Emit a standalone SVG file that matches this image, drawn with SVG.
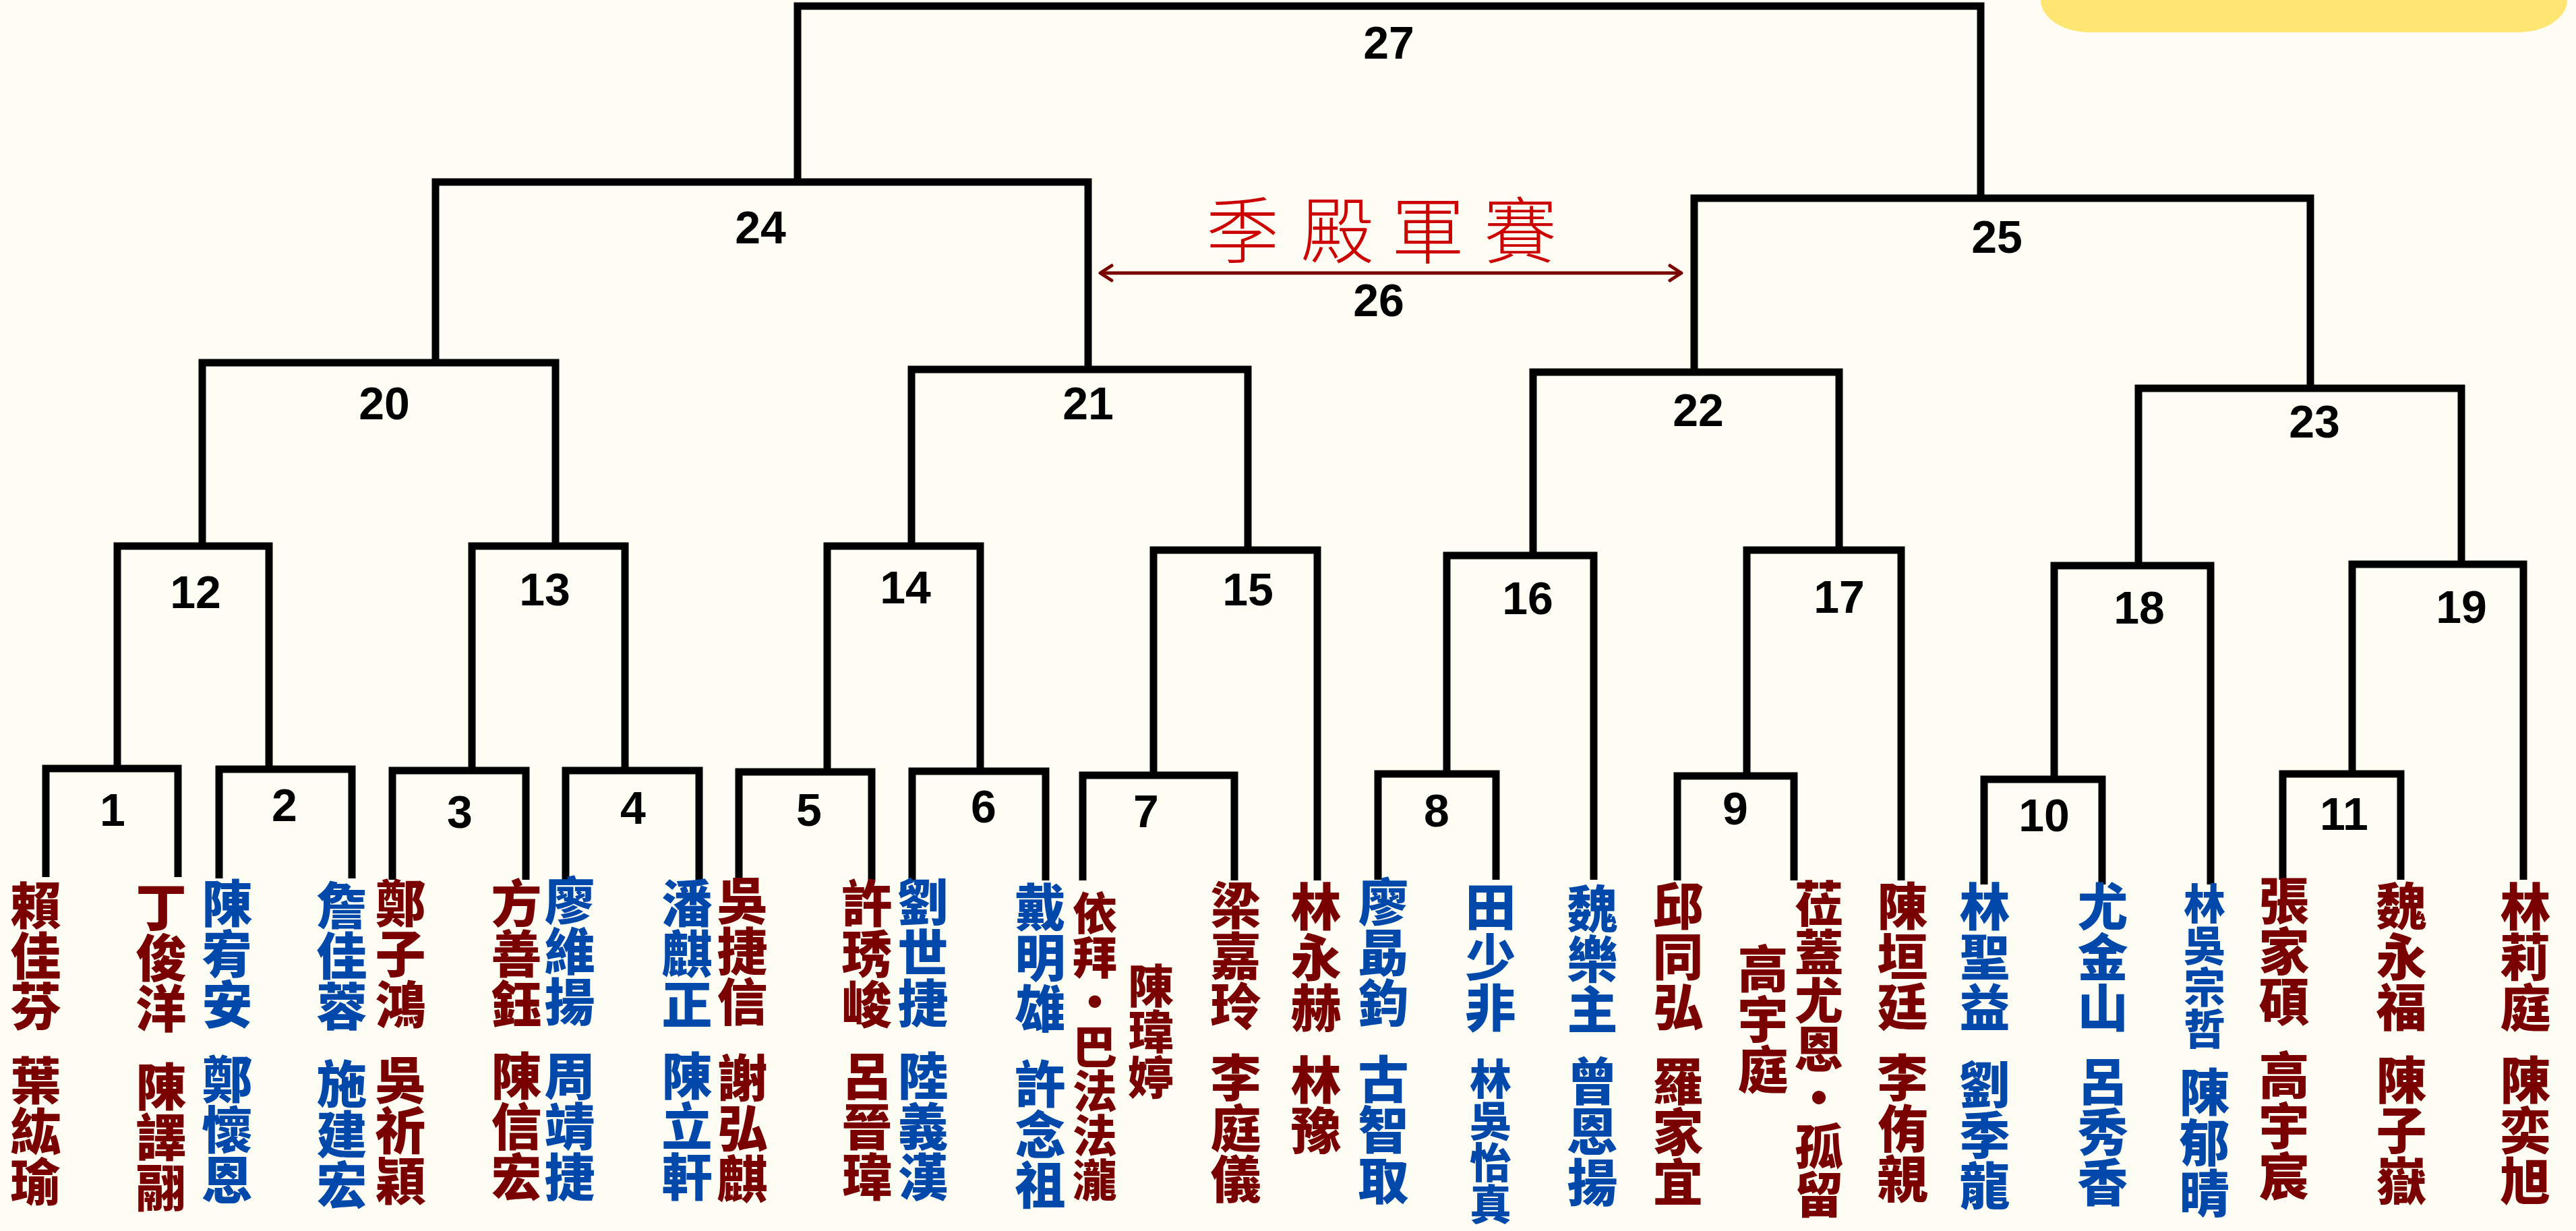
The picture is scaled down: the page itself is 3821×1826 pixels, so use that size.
<svg xmlns="http://www.w3.org/2000/svg" width="3821" height="1826" viewBox="0 0 3821 1826">
<style>
.bg{fill:#FDFDF4}
.ln{fill:none;stroke:#000;stroke-width:11;stroke-linejoin:miter;stroke-linecap:butt}
.num{font-family:"Liberation Sans","DejaVu Sans",sans-serif;font-weight:bold;font-size:68px;fill:#000;text-anchor:middle}
.nm{font-family:"Noto Sans CJK TC","Noto Sans CJK SC",sans-serif;font-weight:900;font-size:75px;writing-mode:vertical-rl;text-anchor:start}
.r{fill:#7A0000}
.b{fill:#0049AA}
.ttl{font-family:"Noto Sans CJK TC","Noto Sans CJK SC",sans-serif;font-weight:300;font-size:108px;fill:#CC0000;text-anchor:middle}
</style>
<defs>
<marker id="chev" markerUnits="userSpaceOnUse" viewBox="0 0 30 30" markerWidth="30" markerHeight="30" refX="27" refY="15" orient="auto-start-reverse">
<path d="M10,4 L27,15 L10,26" fill="none" stroke="#7A0000" stroke-width="5" stroke-linecap="round" stroke-linejoin="round"/>
</marker>
</defs>
<rect class="bg" x="0" y="0" width="3821" height="1826"/>
<rect x="3027" y="-48" width="781" height="96" rx="73" ry="48" fill="#FFE571"/>

<g id="connectors">
<path class="ln" d="M68,1301 V1140 H264 V1301"/>
<path class="ln" d="M325,1303 V1141 H522 V1303"/>
<path class="ln" d="M582,1305 V1143 H780 V1305"/>
<path class="ln" d="M839,1305 V1143 H1037 V1305"/>
<path class="ln" d="M1096,1305 V1145 H1293 V1305"/>
<path class="ln" d="M1353,1306 V1144 H1551 V1306"/>
<path class="ln" d="M1606,1306 V1150 H1831 V1306"/>
<path class="ln" d="M2044,1305 V1148 H2219 V1305"/>
<path class="ln" d="M2488,1306 V1151 H2661 V1306"/>
<path class="ln" d="M2943,1312 V1156 H3118 V1312"/>
<path class="ln" d="M3386,1305 V1148 H3561 V1305"/>
<path class="ln" d="M174,1140 V810 H399 V1141"/>
<path class="ln" d="M700,1143 V810 H927 V1143"/>
<path class="ln" d="M1227,1145 V810 H1454 V1144"/>
<path class="ln" d="M1711,1150 V816 H1954 V1306"/>
<path class="ln" d="M2146,1148 V824 H2364 V1305"/>
<path class="ln" d="M2591,1151 V816 H2820 V1306"/>
<path class="ln" d="M3047,1156 V839 H3279 V1312"/>
<path class="ln" d="M3489,1148 V837 H3743 V1305"/>
<path class="ln" d="M300,810 V538 H824 V810"/>
<path class="ln" d="M1352,810 V548 H1851 V816"/>
<path class="ln" d="M2274,824 V552 H2728 V816"/>
<path class="ln" d="M3172,839 V576 H3651 V837"/>
<path class="ln" d="M646,538 V270 H1614 V548"/>
<path class="ln" d="M2513,552 V294 H3427 V576"/>
<path class="ln" d="M1183,270 V9 H2938 V294"/>
<path d="M1632,405 H2494" fill="none" stroke="#7A0000" stroke-width="5" marker-start="url(#chev)" marker-end="url(#chev)"/>
</g>

<g id="m1"><text class="num" x="167" y="1225">1</text></g>
<g id="m2"><text class="num" x="422" y="1218">2</text></g>
<g id="m3"><text class="num" x="682" y="1228">3</text></g>
<g id="m4"><text class="num" x="939" y="1222">4</text></g>
<g id="m5"><text class="num" x="1200" y="1225">5</text></g>
<g id="m6"><text class="num" x="1459" y="1220">6</text></g>
<g id="m7"><text class="num" x="1700" y="1227">7</text></g>
<g id="m8"><text class="num" x="2131" y="1226">8</text></g>
<g id="m9"><text class="num" x="2574" y="1223">9</text></g>
<g id="m10"><text class="num" x="3032" y="1233">10</text></g>
<g id="m11"><text class="num" x="3477" y="1231">11</text></g>
<g id="m12"><text class="num" x="290" y="902">12</text></g>
<g id="m13"><text class="num" x="808" y="898">13</text></g>
<g id="m14"><text class="num" x="1343" y="895">14</text></g>
<g id="m15"><text class="num" x="1851" y="898">15</text></g>
<g id="m16"><text class="num" x="2266" y="911">16</text></g>
<g id="m17"><text class="num" x="2728" y="909">17</text></g>
<g id="m18"><text class="num" x="3173" y="925">18</text></g>
<g id="m19"><text class="num" x="3651" y="924">19</text></g>
<g id="m20"><text class="num" x="570" y="622">20</text></g>
<g id="m21"><text class="num" x="1614" y="622">21</text></g>
<g id="m22"><text class="num" x="2519" y="632">22</text></g>
<g id="m23"><text class="num" x="3433" y="649">23</text></g>
<g id="m24"><text class="num" x="1128" y="361">24</text></g>
<g id="m25"><text class="num" x="2962" y="375">25</text></g>
<g id="m26"><text class="ttl" x="1843 1984 2118 2255" y="382">季殿軍賽</text><text class="num" x="2045" y="469">26</text></g>
<g id="m27"><text class="num" x="2060" y="87">27</text></g>

<g id="p01"><text class="nm r" x="53" y="1305">賴佳芬</text><text class="nm r" x="53" y="1565">葉紘瑜</text></g>
<g id="p02"><text class="nm r" x="239" y="1308">丁俊洋</text><text class="nm r" x="239" y="1574">陳譯翮</text></g>
<g id="p03"><text class="nm b" x="337" y="1302">陳宥安</text><text class="nm b" x="337" y="1563">鄭懷恩</text></g>
<g id="p04"><text class="nm b" x="507" y="1305">詹佳蓉</text><text class="nm b" x="507" y="1570">施建宏</text></g>
<g id="p05"><text class="nm r" x="594" y="1302">鄭子鴻</text><text class="nm r" x="594" y="1564">吳祈穎</text></g>
<g id="p06"><text class="nm r" x="766" y="1302">方善鈺</text><text class="nm r" x="766" y="1558">陳信宏</text></g>
<g id="p07"><text class="nm b" x="845" y="1298">廖維揚</text><text class="nm b" x="845" y="1558">周靖捷</text></g>
<g id="p08"><text class="nm b" x="1019" y="1302">潘麒正</text><text class="nm b" x="1019" y="1558">陳立軒</text></g>
<g id="p09"><text class="nm r" x="1101" y="1298">吳捷信</text><text class="nm r" x="1101" y="1561">謝弘麒</text></g>
<g id="p10"><text class="nm r" x="1286" y="1302">許琇峻</text><text class="nm r" x="1286" y="1558">呂晉瑋</text></g>
<g id="p11"><text class="nm b" x="1369" y="1300">劉世捷</text><text class="nm b" x="1369" y="1558">陸義漢</text></g>
<g id="p12"><text class="nm b" x="1543" y="1308">戴明雄</text><text class="nm b" x="1543" y="1570">許念祖</text></g>
<g id="p13"><text class="nm r" x="1624" y="1321" style="font-size:66px">依拜・巴法法瀧</text><text class="nm r" x="1707" y="1428" style="font-size:68px">陳瑋婷</text></g>
<g id="p14"><text class="nm r" x="1833" y="1305">梁嘉玲</text><text class="nm r" x="1833" y="1561">李庭儀</text></g>
<g id="p15"><text class="nm r" x="1952" y="1307">林永赫</text><text class="nm r" x="1952" y="1564">林豫</text></g>
<g id="p16"><text class="nm b" x="2052" y="1300">廖勗鈞</text><text class="nm b" x="2052" y="1563">古智取</text></g>
<g id="p17"><text class="nm b" x="2211" y="1307">田少非</text><text class="nm b" x="2211" y="1569" style="font-size:62px">林吳怡真</text></g>
<g id="p18"><text class="nm b" x="2362" y="1310">魏樂主</text><text class="nm b" x="2362" y="1566">曾恩揚</text></g>
<g id="p19"><text class="nm r" x="2489" y="1306">邱同弘</text><text class="nm r" x="2489" y="1566">羅家宜</text></g>
<g id="p20"><text class="nm r" x="2615" y="1399">高宇庭</text><text class="nm r" x="2698" y="1304" style="font-size:72px">莅蓋尤恩・孤留</text></g>
<g id="p21"><text class="nm r" x="2822" y="1306">陳垣廷</text><text class="nm r" x="2822" y="1561">李侑親</text></g>
<g id="p22"><text class="nm b" x="2944" y="1307">林聖益</text><text class="nm b" x="2944" y="1571">劉季龍</text></g>
<g id="p23"><text class="nm b" x="3119" y="1307">尤金山</text><text class="nm b" x="3119" y="1566">呂秀香</text></g>
<g id="p24"><text class="nm b" x="3270" y="1309" style="font-size:62px">林吳宗哲</text><text class="nm b" x="3270" y="1582">陳郁晴</text></g>
<g id="p25"><text class="nm r" x="3388" y="1298">張家碩</text><text class="nm r" x="3388" y="1557">高宇宸</text></g>
<g id="p26"><text class="nm r" x="3562" y="1306">魏永福</text><text class="nm r" x="3562" y="1564">陳子嶽</text></g>
<g id="p27"><text class="nm r" x="3746" y="1307">林莉庭</text><text class="nm r" x="3746" y="1564">陳奕旭</text></g>
</svg>
